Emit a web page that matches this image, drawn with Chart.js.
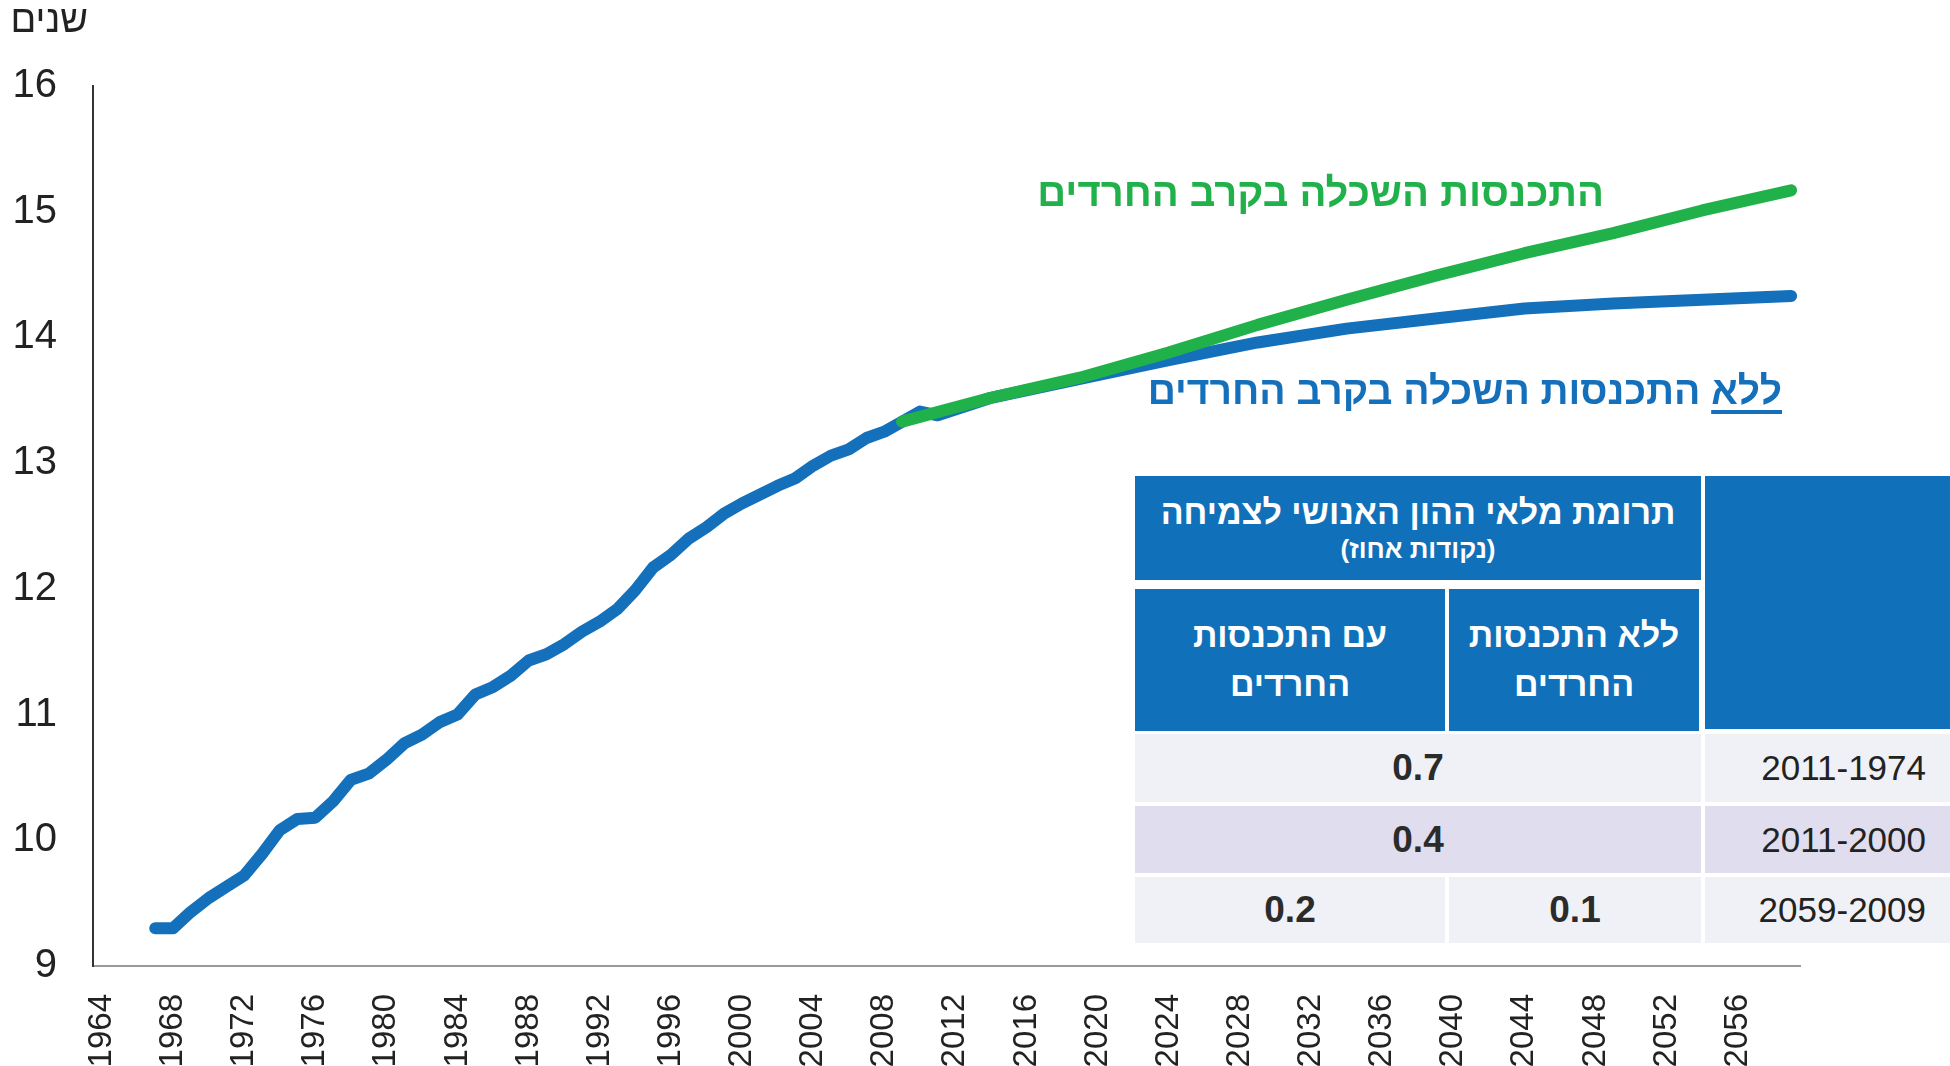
<!DOCTYPE html>
<html lang="he">
<head>
<meta charset="utf-8">
<title>שנות השכלה</title>
<script src="https://cdn.jsdelivr.net/npm/chart.js@4.4.0/dist/chart.umd.min.js"></script>
<style>
    body { margin: 0; background: #fff; }
    #wrap {
        position: relative; width: 1950px; height: 1066px; overflow: hidden;
        font-family: "Liberation Sans", Arial, "DejaVu Sans", sans-serif;
    }
    #chart { position: absolute; left: 0; top: 0; }
    .txt { position: absolute; direction: rtl; white-space: nowrap; }
    .cell {
        position: absolute; display: flex; flex-direction: column;
        align-items: center; justify-content: center; direction: rtl;
        text-align: center; box-sizing: border-box;
    }
    .head { background: #1170ba; color: #fff; font-weight: bold; }
    .val { font-family: "Liberation Sans Narrow", "Liberation Sans", sans-serif; font-weight: bold; font-size: 37px; color: #2b2b2b; }
    .period { align-items: flex-end; padding-right: 24px; font-size: 35px; color: #222; direction: ltr; }
</style>
</head>
<body>
<div id="wrap">
    <canvas id="chart" width="1950" height="1066"></canvas>
    <div class="txt" id="unitLabel" style="right:1862px; top:-2px; font-size:38px; color:#222;">שנים</div>
    <div class="txt" id="greenLabel" style="right:346px; top:170px; font-size:40px; font-weight:bold; color:#21b14b;">התכנסות השכלה בקרב החרדים</div>
    <div class="txt" id="blueLabel" style="right:168px; top:369px; font-size:39px; font-weight:bold; color:#1570bb;"><u style="text-decoration-thickness:4px; text-underline-offset:6px;">ללא</u> התכנסות השכלה בקרב החרדים</div>
    <div id="table"></div>
</div>

<script>
// Categories (years on the x axis)
const years = [];
for (let y = 1964; y <= 2059; y++) years.push(y);

// Historic series 1967-2011
const historyYears = [1967, 1968, 1969, 1970, 1971, 1972, 1973, 1974, 1975, 1976,
    1977, 1978, 1979, 1980, 1981, 1982, 1983, 1984, 1985, 1986,
    1987, 1988, 1989, 1990, 1991, 1992, 1993, 1994, 1995, 1996,
    1997, 1998, 1999, 2000, 2001, 2002, 2003, 2004, 2005, 2006,
    2007, 2008, 2009, 2010, 2011];
const historyValues = [9.30, 9.30, 9.43, 9.54, 9.63, 9.72, 9.89, 10.08, 10.17, 10.18,
    10.31, 10.48, 10.53, 10.64, 10.77, 10.84, 10.94, 11.00, 11.16, 11.22,
    11.31, 11.43, 11.48, 11.56, 11.66, 11.74, 11.84, 11.99, 12.17, 12.27,
    12.40, 12.49, 12.60, 12.68, 12.75, 12.82, 12.88, 12.98, 13.06, 13.11,
    13.20, 13.25, 13.33, 13.41, 13.38];

// Projection without convergence (blue)
const blueProjYears = [2014, 2019, 2024, 2029, 2034, 2039, 2044, 2049, 2054, 2059];
const blueProjValues = [13.52, 13.67, 13.82, 13.96, 14.07, 14.15, 14.23, 14.27, 14.30, 14.33];

// Projection with convergence (green)
const greenYears = [2009, 2014, 2019, 2024, 2029, 2034, 2039, 2044, 2049, 2054, 2059];
const greenValues = [13.33, 13.52, 13.68, 13.88, 14.10, 14.30, 14.49, 14.67, 14.83, 15.01, 15.17];

// Y ticks
const yMin = 9;
const yMax = 16;

// Table contents
const tablePeriods = ['2011-1974', '2011-2000', '2059-2009'];
const withoutValues = ['0.7', '0.4', '0.1'];
const withValues = ['0.7', '0.4', '0.2'];

function toSeries(xs, vs) {
    const out = years.map(() => null);
    xs.forEach((x, i) => { out[years.indexOf(x)] = vs[i]; });
    return out;
}

document.addEventListener('DOMContentLoaded', function() {
    drawChart();
    buildTable();
});

function drawChart() {
    const blueData = toSeries(historyYears.concat(blueProjYears), historyValues.concat(blueProjValues));
    const greenData = toSeries(greenYears, greenValues);

    const lineStyle = {
        borderWidth: 12,
        pointRadius: 0,
        spanGaps: true,
        tension: 0,
        borderCapStyle: 'round',
        borderJoinStyle: 'round',
        fill: false
    };

    new Chart(document.getElementById('chart').getContext('2d'), {
        type: 'line',
        data: {
            labels: years.map(String),
            datasets: [
                Object.assign({ label: 'עם התכנסות', data: greenData, borderColor: '#21b14b', order: 0 }, lineStyle),
                Object.assign({ label: 'ללא התכנסות', data: blueData, borderColor: '#1570bb', order: 1 }, lineStyle)
            ]
        },
        options: {
            responsive: false,
            animation: false,
            devicePixelRatio: 1,
            layout: { padding: { left: 0, top: 86, right: 150, bottom: 0 } },
            plugins: { legend: { display: false }, tooltip: { enabled: false } },
            scales: {
                x: {
                    offset: true,
                    grid: { display: false },
                    border: { display: true, color: '#9a9a9a', width: 2 },
                    afterFit: function(scale) { scale.height = 100; },
                    ticks: {
                        autoSkip: false,
                        maxRotation: 90,
                        minRotation: 90,
                        padding: 20,
                        color: '#222',
                        font: { family: 'Liberation Sans', size: 33 },
                        callback: function(value, index) {
                            return years[index] % 4 === 0 ? String(years[index]) : '';
                        }
                    }
                },
                y: {
                    min: yMin,
                    max: yMax,
                    grid: { display: false },
                    border: { display: true, color: '#333', width: 2 },
                    afterFit: function(scale) { scale.width = 93; },
                    ticks: {
                        stepSize: 1,
                        padding: 28,
                        color: '#222',
                        font: { family: 'Liberation Sans', size: 40 }
                    }
                }
            }
        }
    });
}

function addCell(parent, left, top, width, height, cls, html, bg) {
    const div = document.createElement('div');
    div.className = 'cell ' + cls;
    div.style.left = left + 'px';
    div.style.top = top + 'px';
    div.style.width = width + 'px';
    div.style.height = height + 'px';
    if (bg) div.style.background = bg;
    div.innerHTML = html;
    parent.appendChild(div);
}

function buildTable() {
    const t = document.getElementById('table');

    // Header rows
    addCell(t, 1135, 476, 566, 104, 'head',
        '<div style="font-size:34px;line-height:42px;">תרומת מלאי ההון האנושי לצמיחה</div>' +
        '<div style="font-size:26px;line-height:32px;">(נקודות אחוז)</div>');
    addCell(t, 1705, 476, 245, 253, 'head', '');
    addCell(t, 1135, 589, 310, 142, 'head',
        '<div style="font-size:34px;line-height:49px;">עם התכנסות<br>החרדים</div>');
    addCell(t, 1449, 589, 250, 142, 'head',
        '<div style="font-size:34px;line-height:49px;">ללא התכנסות<br>החרדים</div>');

    // Data rows
    const rowTops = [734, 806, 877];
    const rowHeights = [68, 67, 66];
    const rowColors = ['#f0f1f6', '#dfddee', '#f0f1f6'];

    tablePeriods.forEach((period, i) => {
        const top = rowTops[i];
        const h = rowHeights[i];
        addCell(t, 1705, top, 245, h, 'period', period, rowColors[i]);
        if (withoutValues[i] === withValues[i]) {
            addCell(t, 1135, top, 566, h, 'val', withValues[i], rowColors[i]);
        } else {
            addCell(t, 1135, top, 310, h, 'val', withValues[i], rowColors[i]);
            addCell(t, 1449, top, 252, h, 'val', withoutValues[i], rowColors[i]);
        }
    });
}
</script>
</body>
</html>
